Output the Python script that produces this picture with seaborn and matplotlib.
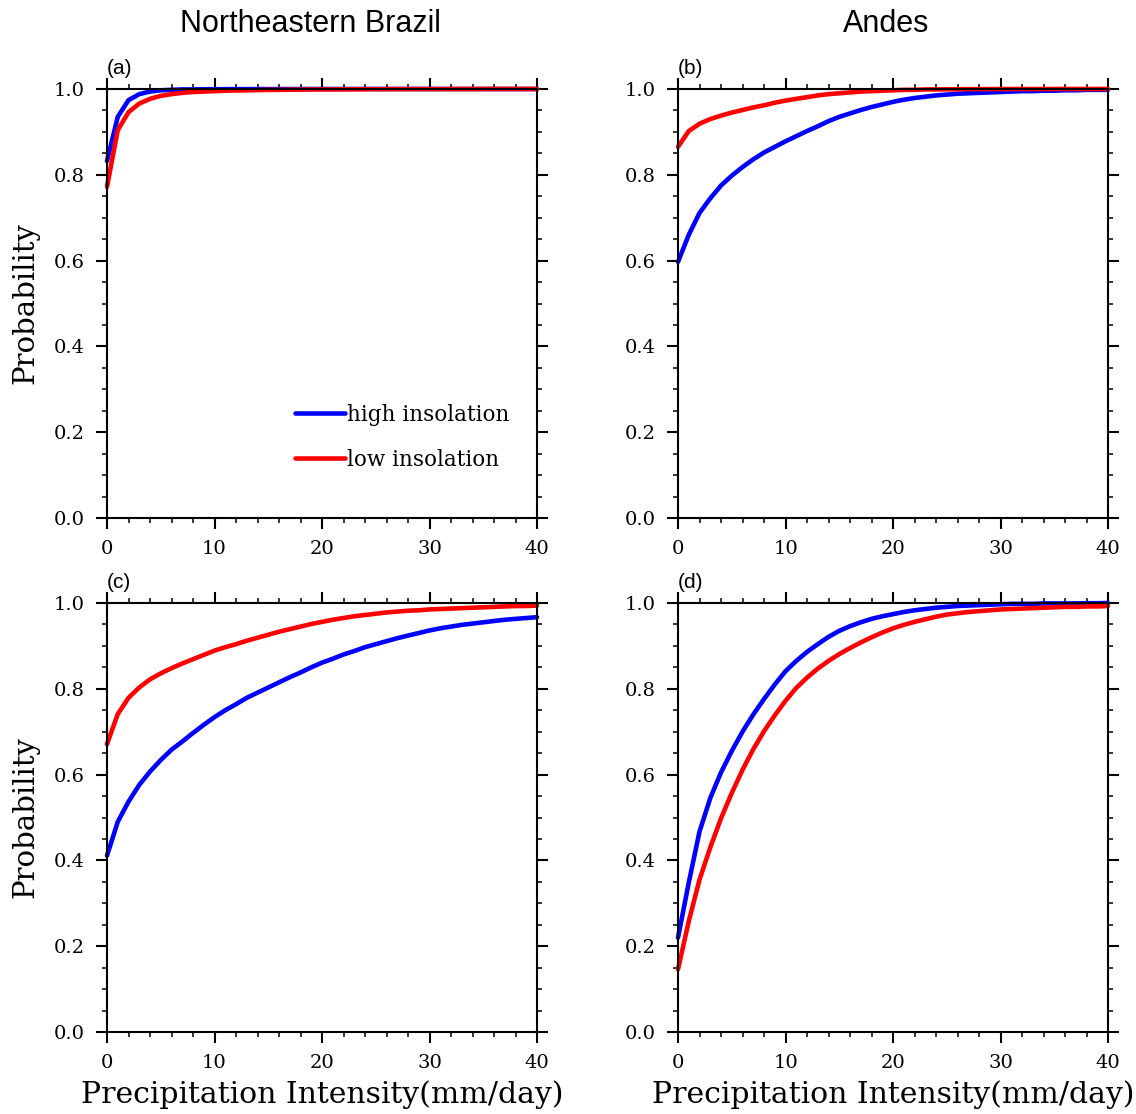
import matplotlib
matplotlib.use("Agg")
import matplotlib.pyplot as plt
import seaborn as sns
import pandas as pd
from matplotlib.ticker import MultipleLocator

# ---------------- data ----------------
intensity = list(range(41))

a_high = [0.832, 0.935, 0.974, 0.988, 0.994, 0.997, 0.998, 0.999, 0.999, 0.9995,
          0.9995, 0.9996, 0.9997, 0.9997, 0.9998, 0.9998, 0.9999, 0.9999, 0.9999, 1.0,
          1.0, 1.0, 1.0, 1.0, 1.0, 1.0, 1.0, 1.0, 1.0, 1.0,
          1.0, 1.0, 1.0, 1.0, 1.0, 1.0, 1.0, 1.0, 1.0, 1.0, 1.0]
a_low = [0.772, 0.904, 0.946, 0.966, 0.977, 0.984, 0.988, 0.991, 0.993, 0.994,
         0.995, 0.996, 0.9965, 0.997, 0.9975, 0.998, 0.998, 0.9985, 0.9985, 0.999,
         0.999, 0.999, 0.9993, 0.9993, 0.9995, 0.9995, 0.9996, 0.9997, 0.9997, 0.9998,
         0.9998, 0.9998, 0.9999, 0.9999, 0.9999, 0.9999, 1.0, 1.0, 1.0, 1.0, 1.0]

b_high = [0.597, 0.660, 0.711, 0.745, 0.775, 0.798, 0.818, 0.836, 0.852, 0.865,
          0.878, 0.890, 0.902, 0.913, 0.925, 0.935, 0.943, 0.951, 0.958, 0.964,
          0.970, 0.975, 0.979, 0.982, 0.985, 0.987, 0.989, 0.990, 0.991, 0.992,
          0.993, 0.994, 0.995, 0.995, 0.996, 0.996, 0.997, 0.997, 0.998, 0.998, 0.998]
b_low = [0.865, 0.902, 0.919, 0.930, 0.938, 0.945, 0.951, 0.957, 0.962, 0.968,
         0.973, 0.977, 0.981, 0.985, 0.988, 0.990, 0.992, 0.994, 0.995, 0.996,
         0.997, 0.998, 0.998, 0.999, 0.999, 0.9993, 0.9995, 0.9996, 0.9997, 0.9998,
         0.9998, 0.9999, 0.9999, 0.9999, 0.9999, 1.0, 1.0, 1.0, 1.0, 1.0, 1.0]

c_high = [0.411, 0.490, 0.537, 0.576, 0.607, 0.634, 0.658, 0.677, 0.697, 0.716,
          0.734, 0.750, 0.764, 0.779, 0.791, 0.803, 0.815, 0.827, 0.838, 0.850,
          0.861, 0.870, 0.880, 0.888, 0.897, 0.904, 0.911, 0.918, 0.924, 0.930,
          0.936, 0.941, 0.945, 0.949, 0.952, 0.955, 0.958, 0.961, 0.963, 0.965, 0.967]
c_low = [0.671, 0.741, 0.779, 0.803, 0.822, 0.836, 0.848, 0.859, 0.869, 0.879,
         0.889, 0.897, 0.904, 0.912, 0.919, 0.926, 0.933, 0.939, 0.945, 0.951,
         0.956, 0.961, 0.965, 0.969, 0.972, 0.975, 0.978, 0.980, 0.982, 0.983,
         0.985, 0.986, 0.987, 0.988, 0.989, 0.990, 0.991, 0.992, 0.993, 0.993, 0.994]

d_high = [0.220, 0.348, 0.467, 0.545, 0.605, 0.655, 0.700, 0.740, 0.776, 0.810,
          0.841, 0.865, 0.886, 0.904, 0.921, 0.935, 0.946, 0.955, 0.963, 0.969,
          0.974, 0.979, 0.983, 0.986, 0.989, 0.991, 0.993, 0.994, 0.995, 0.996,
          0.997, 0.998, 0.998, 0.998, 0.999, 0.999, 0.999, 0.999, 0.9995, 0.9995, 1.0]
d_low = [0.146, 0.258, 0.355, 0.430, 0.498, 0.557, 0.611, 0.659, 0.701, 0.738,
         0.772, 0.802, 0.826, 0.847, 0.865, 0.881, 0.895, 0.908, 0.920, 0.931,
         0.941, 0.949, 0.956, 0.962, 0.968, 0.973, 0.976, 0.979, 0.981, 0.983,
         0.985, 0.986, 0.987, 0.988, 0.989, 0.990, 0.991, 0.991, 0.992, 0.992, 0.993]

series_names = ["high insolation", "low insolation"]
series_colors = ["#0000ff", "#ff0000"]
panel_labels = ["(a)", "(b)", "(c)", "(d)"]
column_titles = ["Northeastern Brazil", "Andes"]
x_label = "Precipitation Intensity(mm/day)"
y_label = "Probability"

panels = [(a_high, a_low), (b_high, b_low), (c_high, c_low), (d_high, d_low)]

# ---------------- style ----------------
sns.set_style("ticks")
plt.rcParams["font.family"] = ["DejaVu Serif"]
plt.rcParams["axes.linewidth"] = 1.5
for key in ["text.color", "axes.labelcolor", "xtick.color", "ytick.color",
            "axes.edgecolor"]:
    plt.rcParams[key] = "black"

W, H = 1136, 1114
fig = plt.figure(figsize=(W / 100, H / 100), dpi=100)

lefts = [107, 678]
tops = [89, 603]
aw, ah = 430, 429

serif = "DejaVu Serif"
sans = "Liberation Sans"

for i, (hi, lo) in enumerate(panels):
    r, c = divmod(i, 2)
    l = lefts[c]
    t = tops[r]
    ax = fig.add_axes([l / W, 1 - (t + ah) / H, aw / W, ah / H])
    df = pd.DataFrame({
        "x": intensity * 2,
        "p": hi + lo,
        "series": [series_names[0]] * len(hi) + [series_names[1]] * len(lo),
    })
    sns.lineplot(data=df, x="x", y="p", hue="series", palette=series_colors,
                 hue_order=series_names, linewidth=3.3, ax=ax,
                 legend=(i == 0), clip_on=False)
    ax.set_xlim(0, 40)
    ax.set_ylim(0, 1)
    ax.xaxis.set_major_locator(MultipleLocator(10))
    ax.xaxis.set_minor_locator(MultipleLocator(2))
    ax.yaxis.set_major_locator(MultipleLocator(0.2))
    ax.yaxis.set_minor_locator(MultipleLocator(0.05))
    ax.set_xticks(range(0, 41, 10))
    ax.set_xticklabels([str(v) for v in range(0, 41, 10)])
    ax.set_yticks([0, 0.2, 0.4, 0.6, 0.8, 1.0])
    ax.set_yticklabels(["0.0", "0.2", "0.4", "0.6", "0.8", "1.0"])
    ax.tick_params(which="both", direction="out", top=True, right=True,
                   labeltop=False, labelright=False, color="black",
                   labelcolor="black")
    ax.tick_params(which="major", length=8, width=1.5, labelsize=14, pad=8)
    ax.tick_params(which="minor", length=3.8, width=1.1)
    for lab in ax.get_xticklabels() + ax.get_yticklabels():
        lab.set_family(serif)
    for s in ax.spines.values():
        s.set_visible(True)
        s.set_linewidth(1.5)
        s.set_color("black")

    if r == 1:
        ax.set_xlabel(x_label, fontsize=21.5, family=serif, color="black")
        ax.xaxis.set_label_coords(0.5, -0.112)
    else:
        ax.set_xlabel("")
    if c == 0:
        ax.set_ylabel(y_label, fontsize=21, family=serif, color="black")
        ax.yaxis.set_label_coords(-0.158, 0.5)
    else:
        ax.set_ylabel("")

    ax.annotate(panel_labels[i], xy=(0, 1), xycoords="axes fraction",
                xytext=(0, 15), textcoords="offset pixels",
                ha="left", va="baseline", fontsize=15, family=sans,
                color="black")

    if i == 0:
        leg = ax.legend(loc="upper left", bbox_to_anchor=(0.437, 0.266),
                        frameon=False, fontsize=15.5, handlelength=2.33,
                        handletextpad=0.08, labelspacing=1.07, borderpad=0,
                        borderaxespad=0, title=None)
        for line in leg.get_lines():
            line.set_linewidth(3.3)
        for txt in leg.get_texts():
            txt.set_family(serif)
            txt.set_color("black")

for c, title in enumerate(column_titles):
    cx = [310, 886][c]
    fig.text(cx / W, 1 - 32 / H, title, ha="center", va="baseline",
             fontsize=22, family=sans, color="black")

fig.savefig("out.png", dpi=100)
